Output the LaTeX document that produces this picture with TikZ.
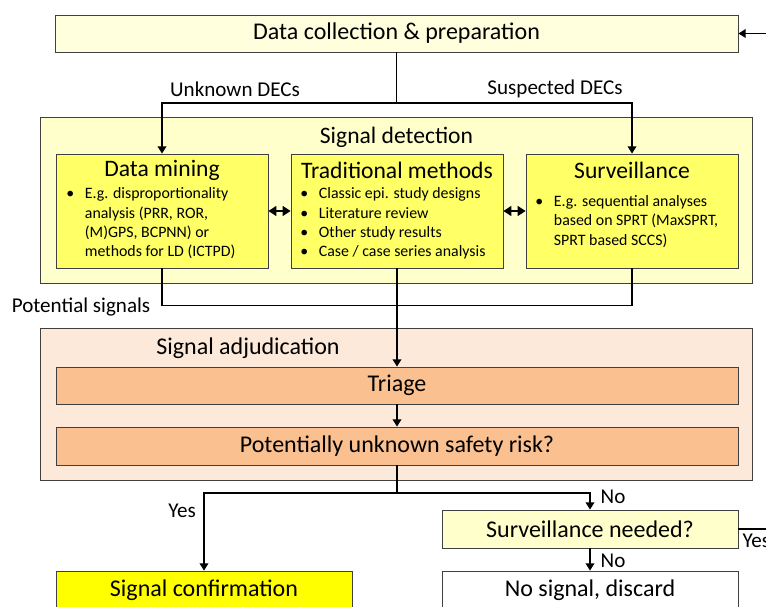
\documentclass[tikz,border=0pt]{standalone}
\usepackage{fontspec}
\setmainfont{Carlito}
\usetikzlibrary{arrows.meta}

\definecolor{collectfill}{HTML}{FFFFDD}
\definecolor{detectfill}{HTML}{FFFFCC}
\definecolor{methodfill}{HTML}{FFFF66}
\definecolor{adjudfill}{HTML}{FDE9D9}
\definecolor{triagefill}{HTML}{FAC090}
\definecolor{confirmfill}{HTML}{FFFF00}

\newcommand{\bitems}[1]{\begin{tabular}{@{}p{14pt}@{}l@{}}#1\end{tabular}}

\begin{document}
\begin{tikzpicture}[x=0.75pt, y=-0.75pt,
  box/.style={draw=black!75, line width=0.6pt, inner sep=0pt},
  conn/.style={line width=1.2pt},
  arr/.style={conn, -{Triangle[width=6.5pt,length=5.5pt]}},
  darr/.style={conn, {Triangle[width=7.5pt,length=6pt]}-{Triangle[width=7.5pt,length=6pt]}},
  lbl/.style={font=\fontsize{15.8}{18}\selectfont},
  big/.style={font=\fontsize{18}{21}\selectfont},
  bul/.style={anchor=west, inner sep=0pt, font=\fontsize{11.9}{14.5}\selectfont}]

\useasboundingbox (0,0) rectangle (766,606);

% ---- data collection ----
\node[box, big, fill=collectfill, minimum width=512.25pt, minimum height=27.75pt] (dcp) at (396.5,33.5) {Data collection \& preparation};
\coordinate (back) at (766,33.5);
\draw[arr] (back) -- (dcp.east);

% ---- signal detection ----
\node[box, fill=detectfill, minimum width=534pt, minimum height=124.5pt] (det) at (396.5,200) {};
\node[font=\fontsize{17.7}{20}\selectfont] (dettitle) at (396.5,137) {Signal detection};

\node[box, fill=methodfill, minimum width=159pt, minimum height=85.5pt] (dm) at (162,211) {};
\node[box, fill=methodfill, minimum width=159pt, minimum height=85.5pt] (tm) at (397,211) {};
\node[box, fill=methodfill, minimum width=159pt, minimum height=85.5pt] (sv) at (632,211) {};

\node[font=\fontsize{17.7}{20}\selectfont] (dmtitle) at (162,170) {Data mining};
\node[font=\fontsize{17.7}{20}\selectfont] (tmtitle) at (397,170) {Traditional methods};
\node[font=\fontsize{17.7}{20}\selectfont] (svtitle) at (632,170) {Surveillance};

\node[bul] (dmtext) at (66,224) {\bitems{%
  \textbullet & E.g. disproportionality\\
  & analysis (PRR, ROR,\\
  & (M)GPS, BCPNN) or\\
  & methods for LD (ICTPD)}};
\node[bul] (tmtext) at (300,224) {\bitems{%
  \textbullet & Classic epi. study designs\\
  \textbullet & Literature review\\
  \textbullet & Other study results\\
  \textbullet & Case / case series analysis}};
\node[bul, font=\fontsize{11.9}{14.6}\selectfont] (svtext) at (535,222) {\bitems{%
  \textbullet & E.g. sequential analyses\\
  & based on SPRT (MaxSPRT,\\
  & SPRT based SCCS)}};

\coordinate (split) at (396.5,103);
\draw[conn] (dcp.south) -- (split);
\draw[arr] (split) -| (dm.north);
\draw[arr] (split) -| (sv.north);
\node[lbl] (unk) at (235,89) {Unknown DECs};
\node[lbl] (sus) at (555,89) {Suspected DECs};

\draw[darr] (dm.east) -- (tm.west);
\draw[darr] (tm.east) -- (sv.west);

% ---- signal adjudication ----
\node[box, fill=adjudfill, minimum width=534pt, minimum height=114pt] (adj) at (396.5,404) {};
\node[big] (adjtitle) at (248,348) {Signal adjudication};

\node[box, big, fill=triagefill, minimum width=511.5pt, minimum height=27.75pt] (triage) at (397,385.5) {Triage};
\node[box, big, fill=triagefill, minimum width=511.5pt, minimum height=28.5pt] (risk) at (397,446) {Potentially unknown safety risk?};

\draw[conn] (dm.south) -- ++(0,37) -| (sv.south);
\node[lbl] (pot) at (81,307) {Potential signals};
\draw[arr] (tm.south) -- (triage.north);
\draw[arr] (triage.south) -- (risk.north);

% ---- outcome ----
\node[box, big, fill=detectfill, minimum width=222pt, minimum height=28.5pt] (svn) at (590,529) {Surveillance needed?};
\node[box, big, fill=confirmfill, minimum width=222pt, minimum height=28.5pt] (sc) at (204,590) {Signal confirmation};
\node[box, big, fill=white, minimum width=222pt, minimum height=28.5pt] (nosig) at (590,590) {No signal, discard};

\coordinate (split2) at (397,493);
\draw[conn] (risk.south) -- (split2);
\draw[arr] (split2) -| (sc.north);
\draw[arr] (split2) -| (svn.north);
\draw[arr] (svn.south) -- (nosig.north);
\coordinate (out) at (766,529);
\draw[conn] (svn.east) -- (out);

\node[lbl] (yes1) at (182,511) {Yes};
\node[lbl, anchor=west] (no1) at (596,497) {No};
\node[lbl, anchor=west] (no2) at (596,561) {No};
\node[lbl, anchor=west] (yes2) at (738,541) {Yes};

\end{tikzpicture}
\end{document}
